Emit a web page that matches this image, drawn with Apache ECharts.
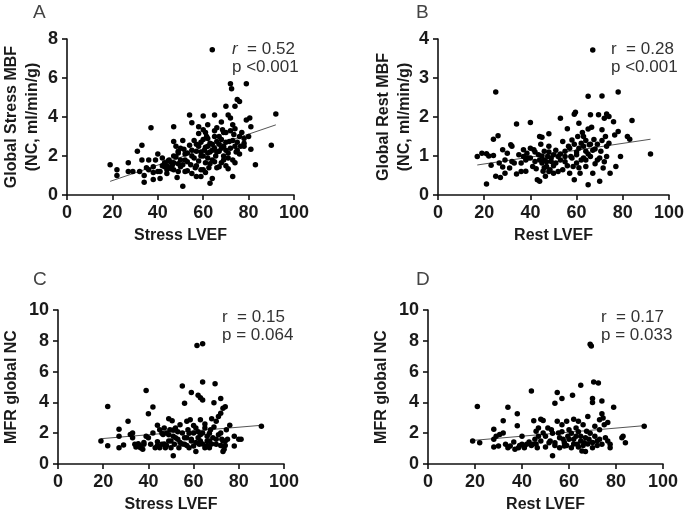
<!DOCTYPE html>
<html>
<head>
<meta charset="utf-8">
<script src="https://cdn.jsdelivr.net/npm/echarts@6/dist/echarts.min.js"></script>
<style>
html, body { margin: 0; padding: 0; background: #fff; }
#main { width: 687px; height: 514px; }
</style>
</head>
<body>
<div id="main"></div>
<script>
// A: Stress LVEF vs Global Stress MBF
var pointsA = [
  [19,1.55],[22,1.3],[22,1.0],[27,1.65],[27,1.2],[29,1.2],[31,2.25],[32,1.2],[33,2.55],[33,1.8],
  [34,1.0],[34,0.65],[35,1.4],[37,3.45],[36,1.8],[38,0.8],[38,1.15],[39,1.8],[40,2.1],[40,1.2],
  [41,0.85],[42,1.5],[42,1.9],[43,1.65],[44,1.5],[44,1.1],[44.5,1.75],[45,1.4],[46,1.65],[46.5,1.55],
  [47,3.5],[47,2.75],[47,2.0],[47,1.3],[48,2.5],[48.5,0.9],[49,2.25],[49,2.15],[50,1.8],[50,1.45],
  [51,2.8],[51,0.45],[51.5,2.35],[52,1.8],[52,1.2],[53,2.15],[54,4.1],[54,2.55],[54.5,1.55],[55,3.7],
  [55,2.0],[56,2.8],[56.5,1.4],[57,2.25],[57,0.95],[58,3.15],[58,2.5],[59,2.0],[59,1.3],[59,0.95],
  [60,4.05],[60,3.35],[60,2.85],[60.5,2.3],[61,1.65],[61,1.15],[61.5,3.0],[62,2.5],[62,2.15],[62.5,1.4],
  [63,0.6],[63,2.65],[64,1.8],[64,7.45],[64,0.85],[65,4.1],[65,3.0],[65,2.4],[65.5,2.0],[66,3.45],
  [66,2.75],[67,1.45],[67,2.25],[68,3.75],[68,2.85],[68.5,3.35],[69,2.0],[69,2.5],[70,4.55],[70,1.5],
  [70,3.2],[71,2.15],[71,4.1],[71.5,2.75],[72,5.7],[72,3.95],[72.5,5.45],[73,0.95],[73,1.8],[73,3.6],
  [73.5,3.1],[74,2.5],[74,4.55],[74,1.65],[74.5,2.2],[75,4.9],[76,4.8],[76,3.0],[76.5,2.5],[78,2.9],
  [78,2.65],[79,5.7],[79,3.85],[80,3.0],[80.5,3.95],[81,3.5],[81,2.35],[83,1.55],[90,2.55],[92,4.15],
  [46,1.35],[45,1.8],[48,1.95],[49,1.6],[50,2.4],[52,2.1],[53,1.7],[55,2.3],[56,1.9],[57,2.6],
  [58,1.75],[59,2.7],[60,2.0],[61,2.45],[62,2.9],[62,1.9],[63,2.2],[64,2.6],[64,2.3],[65,1.7],
  [66,2.2],[67,2.6],[67,3.0],[68,2.4],[69,1.8],[69,3.2],[70,2.7],[70,2.3],[71,1.9],[72,3.3],
  [72,2.4],[73,2.8],[74,3.4],[75,2.3],[75,2.7],[76,2.1],[77,3.2],[78,2.5],[63,1.6],[60,1.3],
  [57,1.5],[55,1.1],[53,1.25],[51,1.55],[49,1.2],[47,1.65],[44,1.3],[43,1.45],[41,1.2],[38,1.45],
  [36,1.3],[66,1.4],[68,1.65],[71,1.35],[59,2.2],[61,3.2],[58,3.5],[62,3.6],[65,3.3]
];

// B: Rest LVEF vs Global Rest MBF
var pointsB = [
  [17,0.99],[19,1.07],[21,0.28],[21,1.06],[22,1.0],[23,0.76],[24,1.43],[24,1.01],[25,2.64],[25,0.48],
  [26,1.52],[26.5,0.82],[27,0.45],[28,1.16],[28,0.72],[29,0.9],[29,0.56],[30,1.07],[31,0.69],[31.5,1.29],
  [32,1.25],[32,0.86],[33,0.82],[34,1.82],[34,0.54],[35,1.03],[36,0.82],[37,0.99],[37,1.16],[38,0.61],
  [38,0.9],[38.5,1.07],[39,0.95],[40,1.86],[40,1.2],[41,0.73],[41.5,1.16],[42,0.86],[42.5,0.67],[43,0.39],
  [43.5,1.03],[44,0.35],[44,1.5],[44.5,1.3],[45,0.82],[45,1.48],[45.5,0.61],[46,1.12],[46,0.9],[46.5,0.48],
  [47,0.73],[47.5,0.99],[48,1.57],[48,1.25],[48.5,0.65],[49,0.86],[50,1.03],[50,0.56],[51,0.82],[52,0.99],
  [53,1.97],[53,0.9],[54,1.37],[54,0.65],[55,1.12],[55,0.99],[56,0.75],[56,1.7],[56.5,1.25],[57,0.56],
  [57.5,0.99],[58,1.41],[58.5,0.73],[59,2.07],[59,0.39],[59.5,2.12],[60,1.03],[60,0.82],[60.5,1.5],[61,1.84],
  [61,1.2],[61.5,0.56],[62,1.33],[62.5,1.6],[63,0.95],[63,1.5],[64,1.12],[64,0.73],[65,1.69],[65,2.53],
  [65,0.26],[65.5,1.29],[66,2.06],[66,0.99],[66.5,1.74],[67,3.72],[67,0.56],[67.5,1.42],[68,1.18],[69,0.9],
  [69.5,2.06],[70,0.35],[70.5,1.12],[71,2.54],[71,1.67],[71.5,0.69],[72,1.97],[72.5,1.5],[73,2.08],[73,0.99],
  [74,2.01],[74,1.33],[74.5,0.56],[76,1.88],[76.5,1.54],[77,0.73],[78,2.64],[78,1.63],[79,0.99],[82,1.5],
  [83,1.43],[84,1.91],[92,1.05],
  [45,1.0],[46,0.7],[47,0.85],[48,1.1],[49,0.95],[50,0.75],[51,1.15],[52,0.6],[53,1.05],[55,0.85],
  [57,1.2],[58,0.95],[59,1.3],[60,1.1],[61,0.7],[62,0.9],[63,1.25],[64,1.4],[64,0.9],[65,1.05],
  [66,1.3],[67,1.15],[68,0.8],[69,1.3],[70,0.95],[71,1.4],[72,0.85],[73,1.25],[48,0.6],[44,0.9],
  [42,1.1],[40,0.95],[36,0.6]
];

// C: Stress LVEF vs MFR global NC
var pointsC = [
  [19,1.49],[22,3.74],[22,1.19],[27,2.26],[27,1.81],[27,1.06],[29,1.23],[31,2.77],[32,1.91],[33,2.02],
  [33,1.7],[34,1.28],[34.5,1.1],[35.5,1.32],[36.5,1.06],[37.5,0.96],[38,1.28],[39,4.77],[39,1.81],[40,3.26],
  [40,1.7],[41,1.28],[42,3.7],[42,2.02],[43,1.06],[44,1.45],[44,2.51],[45,1.06],[45,2.23],[46,1.28],
  [46.5,1.91],[47,2.34],[47.5,1.06],[48,2.02],[49,2.94],[49,1.49],[49.5,2.23],[50,1.06],[50.5,2.81],[51,1.81],
  [51,0.53],[51.5,1.28],[52,2.34],[53,1.6],[53.5,1.06],[54,2.55],[55,5.06],[55,2.02],[56,3.94],[56,1.28],
  [57,2.77],[57,1.7],[57.5,2.23],[58,1.06],[58.5,2.87],[59,4.64],[59,1.49],[60,2.02],[60,1.17],[61,0.81],
  [61,2.34],[61.5,7.7],[62,4.47],[62,1.7],[62.5,1.28],[63,4.3],[63,2.87],[64,7.81],[64,5.32],[64,4.15],
  [64,2.02],[65,1.06],[65,2.34],[66,1.49],[66,1.81],[67,1.06],[67.5,2.23],[68,2.94],[68.5,1.7],[69,3.98],
  [69.5,5.21],[70,2.77],[70,1.28],[71,3.09],[72,4.26],[72,2.02],[72,3.3],[72.5,1.6],[73,0.81],[73,3.62],
  [73.5,0.96],[74,3.72],[74,1.49],[74.5,2.23],[76,2.51],[78,1.81],[78,1.17],[80,1.6],[81,1.6],[90,2.45],
  [48,1.2],[50,1.5],[52,1.7],[53,2.1],[55,1.3],[56,1.7],[57,1.2],[58,2.0],[59,1.6],[60,2.5],
  [61,1.4],[62,2.1],[63,1.5],[63,1.9],[64,1.3],[65,2.6],[66,1.2],[67,1.5],[67,2.0],[68,1.3],
  [69,2.4],[70,1.6],[71,1.9],[72,1.2],[73,1.5],[74,1.2],[75,1.6],[44,1.2],[46,2.0],[47,1.3],
  [49,1.9],[51,2.2],[54,1.4],[36,1.2],[38,1.4]
];

// D: Rest LVEF vs MFR global NC
var pointsD = [
  [19,1.49],[21,3.74],[22,1.38],[28,2.26],[28,1.6],[28,1.1],[29,1.81],[30,1.17],[30.5,1.91],[32,2.81],
  [32,2.02],[33,1.28],[34,3.68],[34,1.06],[35,1.17],[36.5,1.43],[37,0.96],[38,3.26],[38,2.49],[38.5,1.06],
  [40,1.81],[40,1.28],[41,1.06],[42,1.28],[43,1.43],[44,4.74],[44.5,1.28],[45,2.81],[45.5,1.6],[46,2.13],
  [46.5,1.06],[47,2.34],[48,2.91],[48,1.49],[49,2.83],[49,2.02],[50,1.1],[51,2.34],[51.5,1.38],[52.5,2.23],
  [53,0.53],[54,3.94],[54,1.38],[55,4.64],[55,2.77],[55.5,2.02],[56,1.06],[57,4.26],[57,2.55],[57.5,1.6],
  [58,1.17],[59,2.77],[59.5,1.81],[60,2.23],[61,1.06],[61.5,4.47],[62,2.91],[62,1.6],[63,2.34],[63.5,1.28],
  [64,2.77],[65,5.11],[65,1.81],[65.5,0.85],[66,2.55],[66.5,1.38],[67,0.81],[67.5,2.13],[68,3.09],[68.5,1.6],
  [69,7.77],[69.5,7.66],[70,4.26],[70,4.0],[70,1.06],[70.5,5.32],[71,2.45],[72,1.49],[72.5,5.26],[73,2.87],
  [73,2.23],[74,4.09],[74,3.26],[74,1.28],[74.5,2.98],[75,2.55],[75.5,1.7],[76.5,1.49],[76.5,2.7],[77.5,1.28],
  [77.5,1.06],[79,3.68],[82.5,1.7],[83,1.81],[84,1.38],[92,2.45],
  [50,1.8],[52,1.5],[53,2.0],[54,1.2],[56,1.7],[57,2.1],[58,1.4],[59,1.2],[60,1.6],[61,2.0],
  [62,1.3],[63,1.8],[64,1.1],[64,2.1],[65,1.5],[66,1.2],[67,1.7],[68,1.3],[69,2.0],[70,1.4],
  [71,1.8],[72,1.2],[73,1.6],[46,1.3],[47,1.8],[44,1.2],[41,1.1],[39,1.2]
];

// regression lines: [slope, intercept]
var fitA = [0.0397, -0.055];
var fitB = [0.0088, 0.62];
var fitC = [0.01225, 1.41];
var fitD = [0.01315, 1.28];

var yMaxA = 8, yStepA = 2;
var yMaxB = 4, yStepB = 1;
var yMaxC = 10, yStepC = 2;

var grids = [
  {left: 59, top: 39, width: 235, height: 156},
  {left: 438, top: 39, width: 235, height: 156},
  {left: 49, top: 310, width: 235, height: 157},
  {left: 428, top: 310, width: 235, height: 157}
];

var axisCol = '#111';
var txtCol = '#1a1a1a';
var fontFam = 'Liberation Sans, Arial, sans-serif';

function xAx(i, name) {
  return {
    type: 'value', gridIndex: i, min: 0, max: 100, interval: 20,
    name: name, nameLocation: 'middle', nameGap: 33,
    nameTextStyle: {fontFamily: fontFam, fontWeight: 'bold', fontSize: 16, color: txtCol},
    axisLine: {show: true, onZero: false, lineStyle: {color: axisCol, width: 1.6}},
    axisTick: {show: true, length: 5, lineStyle: {color: axisCol, width: 1.6}},
    axisLabel: {fontFamily: fontFam, fontWeight: 'bold', fontSize: 18, color: txtCol, margin: 9},
    splitLine: {show: false}
  };
}
function yAx(i, max, step, name, gap) {
  return {
    type: 'value', gridIndex: i, min: 0, max: max, interval: step,
    name: name, nameLocation: 'middle', nameGap: gap, nameRotate: 90,
    nameTextStyle: {fontFamily: fontFam, fontWeight: 'bold', fontSize: 16, color: txtCol, lineHeight: 21},
    axisLine: {show: true, onZero: false, lineStyle: {color: axisCol, width: 1.6}},
    axisTick: {show: true, length: 5, lineStyle: {color: axisCol, width: 1.6}},
    axisLabel: {fontFamily: fontFam, fontWeight: 'bold', fontSize: 18, color: txtCol, margin: 9},
    splitLine: {show: false}
  };
}

function scatter(i, pts) {
  return {
    type: 'scatter', xAxisIndex: i, yAxisIndex: i, data: pts,
    symbolSize: 5.5, itemStyle: {color: '#000', opacity: 1}, silent: true
  };
}
function fitLine(i, pts, fit) {
  var xs = pts.map(function(p) { return p[0]; });
  var x0 = Math.min.apply(null, xs), x1 = Math.max.apply(null, xs);
  return {
    type: 'line', xAxisIndex: i, yAxisIndex: i, symbol: 'none', silent: true,
    data: [[x0, fit[0] * x0 + fit[1]], [x1, fit[0] * x1 + fit[1]]],
    lineStyle: {color: '#555', width: 1}, z: 1
  };
}

function label(txt, x, y) {
  return {type: 'text', left: x, top: y,
    style: {text: txt, fontFamily: fontFam, fontSize: 19, fill: '#444'}};
}
function stat(r, p, x, y, italic) {
  return {type: 'text', left: x, top: y,
    style: {
      text: (italic ? '{i|r}' : 'r') + '  = ' + r + '\n' + p,
      fontFamily: fontFam, fontSize: 17, fill: '#333', lineHeight: 18,
      rich: {i: {fontStyle: 'italic', fontFamily: fontFam, fontSize: 17, fill: '#333'}}
    }};
}

var chart = echarts.init(document.getElementById('main'));
chart.setOption({
  backgroundColor: '#fff',
  animation: false,
  grid: grids,
  xAxis: [xAx(0, 'Stress LVEF'), xAx(1, 'Rest LVEF'), xAx(2, 'Stress LVEF'), xAx(3, 'Rest LVEF')],
  yAxis: [
    yAx(0, yMaxA, yStepA, 'Global Stress MBF\n(NC, ml/min/g)', 24),
    yAx(1, yMaxB, yStepB, 'Global Rest MBF\n(NC, ml/min/g)', 23),
    yAx(2, yMaxC, yStepC, 'MFR global NC', 36),
    yAx(3, yMaxC, yStepC, 'MFR global NC', 36)
  ],
  series: [
    scatter(0, pointsA), fitLine(0, pointsA, fitA),
    scatter(1, pointsB), fitLine(1, pointsB, fitB),
    scatter(2, pointsC), fitLine(2, pointsC, fitC),
    scatter(3, pointsD), fitLine(3, pointsD, fitD)
  ],
  graphic: [
    label('A', 33, 3), label('B', 416, 3), label('C', 33, 270), label('D', 416, 270),
    stat('0.52', 'p <0.001', 232, 40, true),
    stat('0.28', 'p <0.001', 611, 40, false),
    stat('0.15', 'p = 0.064', 222, 308, false),
    stat('0.17', 'p = 0.033', 601, 308, false)
  ]
});
</script>
</body>
</html>
